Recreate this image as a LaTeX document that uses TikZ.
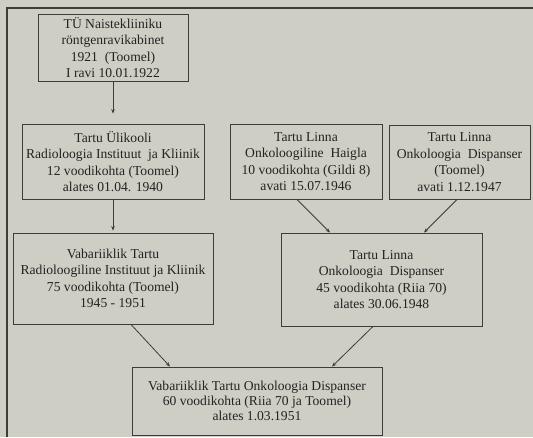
\documentclass[tikz,border=0pt]{standalone}
\usepackage{fontspec}
\setmainfont{Liberation Serif}
\usetikzlibrary{arrows.meta,calc}
\definecolor{paper}{RGB}{206,206,197}
\definecolor{ink}{RGB}{60,60,58}
\definecolor{txt}{RGB}{35,35,35}
\begin{document}
\begin{tikzpicture}[x=1pt,y=-1pt,
  box/.style={draw=ink,line width=0.9pt,rectangle,align=center,inner sep=0pt,
    text=txt,font=\fontsize{13.6}{16.5}\selectfont},
  arr/.style={draw=ink,line width=0.8pt,-{Stealth[length=4.5pt,width=3.5pt]}},
  frame/.style={draw=ink,line width=1.6pt}]
\fill[paper] (0,0) rectangle (533,437);
\useasboundingbox (0,0) rectangle (533,437);
\draw[frame] (7,437) -- (7,8) -- (533,8);

\node[box,minimum width=150pt,minimum height=67pt] (b1) at (113,47.5)
  {TÜ Naistekliiniku\\röntgenravikabinet\\1921\ \ (Toomel)\\I ravi 10.01.1922};
\node[box,minimum width=182pt,minimum height=75pt] (b2) at (113,161.5)
  {Tartu Ülikooli\\Radioloogia Instituut\ \ ja Kliinik\\12 voodikohta (Toomel)\\alates 01.04. 1940};
\node[box,minimum width=152pt,minimum height=75pt] (b3) at (306,161.5)
  {Tartu Linna\\Onkoloogiline\ \ Haigla\\10 voodikohta (Gildi 8)\\avati 15.07.1946};
\node[box,minimum width=141pt,minimum height=74pt] (b4) at (459.5,162)
  {Tartu Linna\\Onkoloogia\ \ Dispanser\\(Toomel)\\avati 1.12.1947};
\node[box,minimum width=200pt,minimum height=91pt] (b5) at (113,278.5)
  {Vabariiklik Tartu\\Radioloogiline Instituut ja Kliinik\\75 voodikohta (Toomel)\\1945 - 1951};
\node[box,minimum width=201pt,minimum height=93pt] (b6) at (381.5,279.5)
  {Tartu Linna\\Onkoloogia\ \ Dispanser\\45 voodikohta (Riia 70)\\alates 30.06.1948};
\node[box,minimum width=250pt,minimum height=68pt,font=\fontsize{13.6}{15}\selectfont] (b7) at (257,401)
  {Vabariiklik Tartu Onkoloogia Dispanser\\60 voodikohta (Riia 70 ja Toomel)\\alates 1.03.1951};

\draw[arr,shorten >=10pt] (b1.south) -- (b2.north);
\draw[arr,shorten >=2pt] (b2.south) -- (b5.north);
\draw[arr] ($(b3.south)+(-9,0)$) -- ($(b6.north)+(-51.5,0)$);
\draw[arr] ($(b4.south)+(-2.5,0)$) -- ($(b6.north)+(42.5,0)$);
\draw[arr] ($(b5.south)+(18,0)$) -- ($(b7.north)+(-87,0)$);
\draw[arr] ($(b6.south)+(-8.5,0)$) -- ($(b7.north)+(75,0)$);
\end{tikzpicture}
\end{document}
